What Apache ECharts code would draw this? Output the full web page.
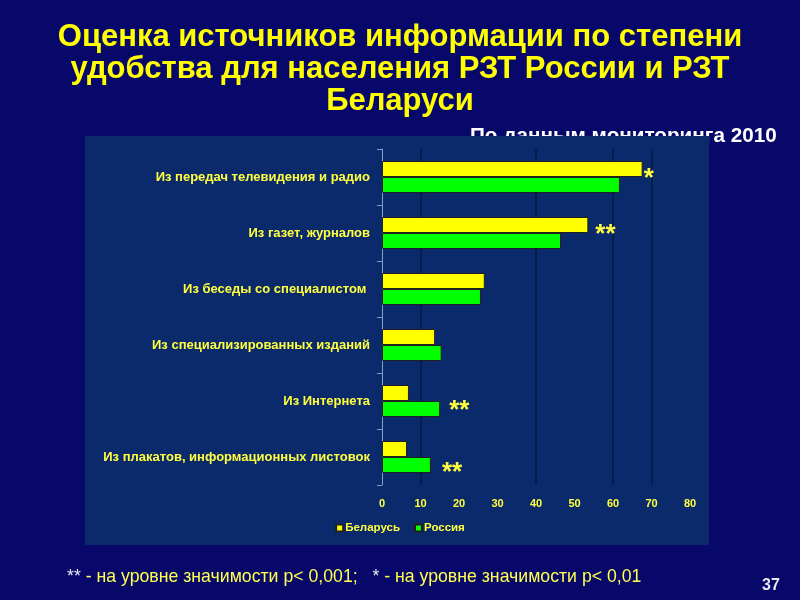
<!DOCTYPE html>
<html>
<head>
<meta charset="utf-8">
<script src="https://cdn.jsdelivr.net/npm/echarts@6/dist/echarts.min.js"></script>
<style>html,body{margin:0;padding:0;background:#07086a;}#c{width:800px;height:600px;}</style>
</head>
<body>
<div id="c"></div>
<script>
var categories = [
  'Из передач телевидения и радио',
  'Из газет, журналов',
  'Из беседы со специалистом ',
  'Из специализированных изданий',
  'Из Интернета',
  'Из плакатов, информационных листовок'
];
var belarus = [67.7, 53.6, 26.7, 13.8, 7.0, 6.5];
var russia = [61.8, 46.5, 25.7, 15.5, 15.1, 12.7];
var marksBelarus = ['*', '**', '', '', '', ''];
var marksRussia = ['', '', '', '', '**', '**'];
var gridValues = [10, 40, 60, 70];
var xTicks = [0, 10, 20, 30, 40, 50, 60, 70, 80];

var markLabel = {
  show: true, position: 'right', color: '#ffff40',
  fontSize: 26, fontWeight: 'bold', fontFamily: 'Liberation Sans'
};
function buildData(vals, marks, dist, dy) {
  return vals.map(function (v, i) {
    var o = { value: v };
    if (marks[i]) {
      o.label = Object.assign({}, markLabel, {
        formatter: marks[i],
        distance: dist[i] || 3,
        offset: [0, dy[i] || 0]
      });
    }
    return o;
  });
}

var chart = echarts.init(document.getElementById('c'));
chart.setOption({
  backgroundColor: '#07086a',
  animation: false,
  title: {
    text: 'Оценка источников информации по степени\nудобства для населения РЗТ России и РЗТ\nБеларуси',
    left: 'center', top: 16,
    textStyle: { color: '#ffff00', fontSize: 31, fontWeight: 'bold', fontFamily: 'Liberation Sans', lineHeight: 32 }
  },
  graphic: [
    { type: 'text', z: -30, left: 470, top: 126,
      style: { text: 'По данным мониторинга 2010', fill: '#ffffff', font: 'bold 20.7px "Liberation Sans"' } },
    { type: 'rect', z: -20, shape: { x: 85, y: 136, width: 624, height: 409 },
      style: { fill: '#0a2a6c' } },
    { type: 'text', left: 67, top: 568,
      style: { rich: { s: { fill: '#e8e8f0', font: '17.7px "Liberation Sans"' }, t: { fill: '#ffff50', font: '17.7px "Liberation Sans"' } },
        text: '{s|**}{t| - на уровне значимости p< 0,001;}{s|   *}{t| - на уровне значимости p< 0,01}' } },
    { type: 'text', left: 762, top: 578,
      style: { text: '37', fill: '#e8e8f0', font: 'bold 16px "Liberation Sans"' } }
  ],
  legend: {
    data: ['Беларусь', 'Россия'], bottom: 61, left: 'center',
    icon: 'rect', itemWidth: 7, itemHeight: 7, itemGap: 14,
    textStyle: { color: '#ffff40', fontSize: 11.5, fontWeight: 'bold', fontFamily: 'Liberation Sans', padding: [0, 0, 0, -3] }
  },
  grid: { left: 382, right: 110, top: 149, bottom: 115, containLabel: false },
  xAxis: {
    type: 'value', min: 0, max: 80, interval: 10,
    axisLine: { show: false }, axisTick: { show: false },
    splitLine: { show: false },
    axisLabel: { color: '#ffff40', fontSize: 11, fontWeight: 'bold', fontFamily: 'Liberation Sans', margin: 13,
      customValues: xTicks }
  },
  yAxis: {
    type: 'category', data: categories, inverse: true,
    axisLine: { show: true, lineStyle: { color: '#8a9cc8', width: 1 } },
    axisTick: { show: true, length: 5, lineStyle: { color: '#8a9cc8' } },
    axisLabel: { color: '#ffff40', fontSize: 13, fontWeight: 'bold', fontFamily: 'Liberation Sans', margin: 12 }
  },
  series: [
    { name: 'Беларусь', type: 'bar', barWidth: 16, barGap: '0%', z: 3,
      itemStyle: { color: '#ffff00', borderColor: '#202020', borderWidth: 1 },
      data: buildData(belarus, marksBelarus, [1, 7], [10, 10])
    },
    { name: 'Россия', type: 'bar', barWidth: 16, z: 3,
      itemStyle: { color: '#00ff00', borderColor: '#202020', borderWidth: 1 },
      data: buildData(russia, marksRussia, [0, 0, 0, 0, 9, 11], [0, 0, 0, 0, 2, 8])
    },
    { name: 'grid', type: 'line', data: [], z: 1, silent: true,
      markLine: { silent: true, z: 1, symbol: 'none', label: { show: false }, animation: false,
        lineStyle: { color: '#061a40', type: 'solid', width: 1.5 },
        data: gridValues.map(function (v) { return { xAxis: v }; }) }
    }
  ]
});
</script>
</body>
</html>
